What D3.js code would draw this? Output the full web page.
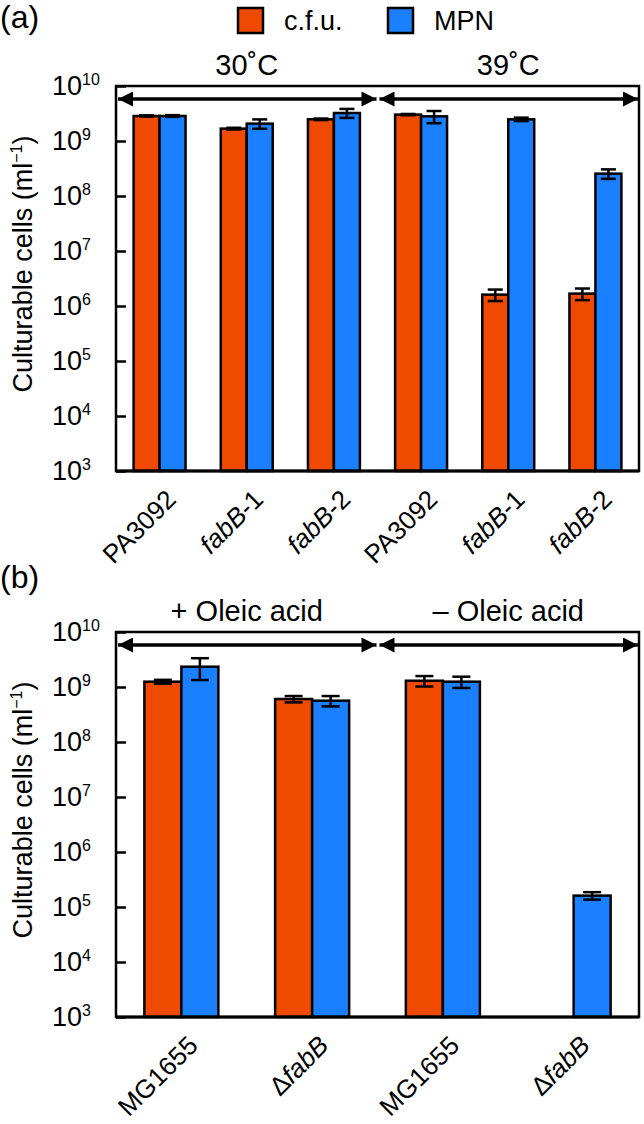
<!DOCTYPE html>
<html>
<head>
<meta charset="utf-8">
<script src="https://cdn.jsdelivr.net/npm/d3@7"></script>
<style>
  body { margin: 0; background: #fff; }
  text { font-family: "Liberation Sans", Arial, Helvetica, sans-serif; fill: #000; }
</style>
</head>
<body>
<script>
// Panel (a) data
var catsA = ["PA3092", "fabB-1", "fabB-2", "PA3092", "fabB-1", "fabB-2"];
var groupsA = ["30˚C", "39˚C"];
var cfuA = [2.85e9, 1.68e9, 2.48e9, 3.02e9, 1.61e6, 1.68e6];
var cfuErrA = [0.08e9, 0.06e9, 0.08e9, 0.08e9, 0.38e6, 0.4e6];
var mpnA = [2.85e9, 2.07e9, 3.23e9, 2.81e9, 2.48e9, 2.55e8];
var mpnErrA = [0.1e9, 0.4e9, 0.6e9, 0.7e9, 0.18e9, 0.5e8];

// Panel (b) data
var catsB = ["MG1655", "ΔfabB", "MG1655", "ΔfabB"];
var groupsB = ["+ Oleic acid", "– Oleic acid"];
var cfuB = [1.25e9, 6.05e8, 1.3e9, null];
var cfuErrB = [0.1e9, 0.8e8, 0.28e9, null];
var mpnB = [2.34e9, 5.64e8, 1.25e9, 1.61e5];
var mpnErrB = [1.0e9, 1.2e8, 0.29e9, 0.25e5];

var yTicks = [1e3, 1e4, 1e5, 1e6, 1e7, 1e8, 1e9, 1e10];
var series = ["c.f.u.", "MPN"];
var colors = ["#f04a00", "#1a80ff"];

var width = 644, height = 1124;
var plotLeft = 116, plotRight = 639;
var plotH = 385;

var svg = d3.select("body")
    .append("svg")
    .attr("width", width)
    .attr("height", height);

// arrow head marker
svg.append("defs").append("marker")
    .attr("id", "head")
    .attr("viewBox", "0 0 10 10")
    .attr("refX", 10)
    .attr("refY", 5)
    .attr("markerUnits", "userSpaceOnUse")
    .attr("markerWidth", 16)
    .attr("markerHeight", 15)
    .attr("orient", "auto-start-reverse")
    .append("path")
    .attr("d", "M0,0 L10,5 L0,10 Z")
    .attr("fill", "#000");

// legend
series.forEach(function (s, i) {
    var lx = i == 0 ? 238 : 388;
    svg.append("rect")
        .attr("x", lx).attr("y", 8)
        .attr("width", 25).attr("height", 25)
        .attr("fill", colors[i])
        .attr("stroke", "#000")
        .attr("stroke-width", 2.5);
    svg.append("text")
        .attr("x", lx + 46).attr("y", 30)
        .style("font-size", "27px")
        .text(s);
});

// panel letters
svg.append("text").attr("x", 0).attr("y", 28).style("font-size", "32px").text("(a)");
svg.append("text").attr("x", 0).attr("y", 588).style("font-size", "32px").text("(b)");

function catLabel(sel, name) {
    if (name.indexOf("fabB") < 0) {
        sel.text(name);
        return;
    }
    var parts = name.split("fabB");
    if (parts[0]) sel.append("tspan").text(parts[0]);
    sel.append("tspan").style("font-style", "italic").text("fabB");
    if (parts[1]) sel.append("tspan").text(parts[1]);
}

function drawPanel(cfg) {
    var top = cfg.top, bottom = cfg.top + plotH;
    var n = cfg.cats.length;
    var g = svg.append("g");

    var y = d3.scaleLog()
        .domain([1e3, 1e10])
        .range([bottom, top]);

    var x0 = d3.scaleBand()
        .domain(d3.range(n))
        .range([plotLeft, plotRight])
        .paddingInner(cfg.pad)
        .paddingOuter(cfg.pad / 2);

    var x1 = d3.scaleBand()
        .domain([0, 1])
        .range([0, x0.bandwidth()]);

    // bars
    [cfg.cfu, cfg.mpn].forEach(function (vals, si) {
        var errs = si == 0 ? cfg.cfuErr : cfg.mpnErr;
        var idx = d3.range(n).filter(function (i) { return vals[i] != null; });

        g.selectAll(".bar" + si)
            .data(idx)
            .enter()
            .append("rect")
            .attr("x", function (i) { return x0(i) + x1(si); })
            .attr("y", function (i) { return y(vals[i]); })
            .attr("width", x1.bandwidth())
            .attr("height", function (i) { return bottom - y(vals[i]); })
            .attr("fill", colors[si])
            .attr("stroke", "#000")
            .attr("stroke-width", 2.5);

        // error bars
        idx.forEach(function (i) {
            var cx = x0(i) + x1(si) + x1.bandwidth() / 2;
            var hi = y(vals[i] + errs[i]), lo = y(vals[i] - errs[i]);
            var eb = g.append("g")
                .attr("stroke", "#000")
                .attr("stroke-width", 2.5);
            eb.append("line").attr("x1", cx).attr("x2", cx).attr("y1", hi).attr("y2", lo);
            eb.append("line").attr("x1", cx - cfg.cap / 2).attr("x2", cx + cfg.cap / 2).attr("y1", hi).attr("y2", hi);
            eb.append("line").attr("x1", cx - cfg.cap / 2).attr("x2", cx + cfg.cap / 2).attr("y1", lo).attr("y2", lo);
        });
    });

    // frame
    g.append("rect")
        .attr("x", plotLeft).attr("y", top)
        .attr("width", plotRight - plotLeft)
        .attr("height", plotH)
        .attr("fill", "none")
        .attr("stroke", "#000")
        .attr("stroke-width", 2.5);
    g.append("line")
        .attr("x1", plotLeft).attr("x2", plotRight)
        .attr("y1", bottom).attr("y2", bottom)
        .attr("stroke", "#000")
        .attr("stroke-width", 3);

    // y axis, ticks inward
    var yAxis = d3.axisLeft(y)
        .tickValues(yTicks)
        .tickSize(-10)
        .tickFormat(function () { return ""; });

    var ax = g.append("g")
        .attr("transform", "translate(" + plotLeft + ",0)")
        .call(yAxis);
    ax.select(".domain").remove();
    ax.selectAll(".tick line").attr("stroke", "#000").attr("stroke-width", 2.5);
    ax.selectAll(".tick text").remove();
    ax.selectAll(".tick").each(function (d) {
        var t = d3.select(this).append("text")
            .attr("x", 52 - plotLeft)
            .attr("dy", "0.33em")
            .attr("text-anchor", "start")
            .style("font-size", "27px");
        t.append("tspan").text("10");
        t.append("tspan")
            .attr("dy", -10)
            .style("font-size", "16px")
            .text(Math.round(Math.log10(d)));
    });

    // y title
    var tt = g.append("text")
        .attr("transform", "translate(32," + (top + 178) + ") rotate(-90)")
        .attr("text-anchor", "middle")
        .style("font-size", "27px");
    tt.append("tspan").text("Culturable cells (ml");
    tt.append("tspan").attr("dy", -10).style("font-size", "16px").text("−1");
    tt.append("tspan").attr("dy", 10).text(")");

    // group arrows and labels
    var per = n / 2;
    cfg.groups.forEach(function (gl, k) {
        var gx0 = x0(k * per) - x0.step() * cfg.pad / 2;
        var gx1 = x0(k * per + per - 1) + x0.bandwidth() + x0.step() * cfg.pad / 2;
        g.append("line")
            .attr("x1", gx0 + 2).attr("x2", gx1 - 1)
            .attr("y1", top + 13).attr("y2", top + 13)
            .attr("stroke", "#000")
            .attr("stroke-width", 3.5)
            .attr("marker-start", "url(#head)")
            .attr("marker-end", "url(#head)");
        g.append("text")
            .attr("x", (gx0 + gx1) / 2)
            .attr("y", top - 11)
            .attr("text-anchor", "middle")
            .style("font-size", "29px")
            .text(gl);
    });

    // category labels
    cfg.cats.forEach(function (c, i) {
        var cx = x0(i) + x0.bandwidth() / 2;
        var t = g.append("text")
            .attr("transform", "translate(" + (cx + 18) + "," + (bottom + 30) + ") rotate(-45)")
            .attr("text-anchor", "end")
            .style("font-size", "26px");
        catLabel(t, c);
    });
}

drawPanel({
    top: 86, cats: catsA, groups: groupsA,
    cfu: cfuA, cfuErr: cfuErrA, mpn: mpnA, mpnErr: mpnErrA,
    pad: 0.404, cap: 15
});

drawPanel({
    top: 632, cats: catsB, groups: groupsB,
    cfu: cfuB, cfuErr: cfuErrB, mpn: mpnB, mpnErr: mpnErrB,
    pad: 0.434, cap: 18
});
</script>
</body>
</html>
